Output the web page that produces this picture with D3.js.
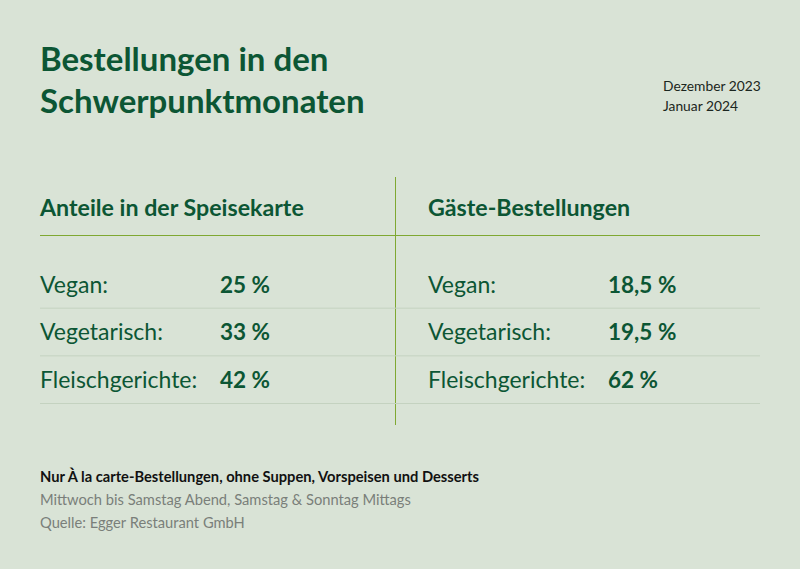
<!DOCTYPE html>
<html><head><meta charset="utf-8">
<script src="https://cdn.jsdelivr.net/npm/d3@7"></script>
<style>html,body{margin:0;padding:0;background:#d9e3d6;}svg{display:block;}</style>
</head><body>
<svg id="c" width="800" height="569"></svg>
<script>
const titleLines = ["Bestellungen in den", "Schwerpunktmonaten"];
const periodLines = ["Dezember 2023", "Januar 2024"];
const columnTitles = ["Anteile in der Speisekarte", "Gäste-Bestellungen"];
const categories = ["Vegan:", "Vegetarisch:", "Fleischgerichte:"];
const menuShares = [25, 33, 42];
const guestShares = [18.5, 19.5, 62];
const footNote = "Nur À la carte-Bestellungen, ohne Suppen, Vorspeisen und Desserts";
const footLines = ["Mittwoch bis Samstag Abend, Samstag & Sonntag Mittags", "Quelle: Egger Restaurant GmbH"];

const FONT = "Lato, 'Noto Sans', sans-serif";
const GREEN = "#0c5634";
const LINE = "#7fa832";
const svg = d3.select("#c").style("font-family", FONT);
svg.append("rect").attr("width", 800).attr("height", 569).attr("fill", "#d9e3d6");

// title
svg.append("g").selectAll("text").data(titleLines).join("text")
  .attr("x", 40).attr("y", (d, i) => 71 + i * 42)
  .attr("font-size", 33).attr("font-weight", 700).attr("fill", GREEN).text(d => d);

svg.append("g").selectAll("text").data(periodLines).join("text")
  .attr("x", 663).attr("y", (d, i) => 91 + i * 20)
  .attr("font-size", 13.8).attr("fill", "#1b2620").text(d => d);

// columns
const colX = d3.scaleOrdinal().domain([0, 1]).range([40, 428]);
const valX = d3.scaleOrdinal().domain([0, 1]).range([220, 608]);
const rowY = d3.scaleBand().domain(categories).range([260, 403]).paddingInner(0);

svg.append("line").attr("x1", 395.5).attr("x2", 395.5).attr("y1", 177).attr("y2", 425)
  .attr("stroke", LINE).attr("stroke-width", 1);
svg.append("line").attr("x1", 40).attr("x2", 760).attr("y1", 235.5).attr("y2", 235.5)
  .attr("stroke", LINE).attr("stroke-width", 1);

svg.append("g").selectAll("text").data(columnTitles).join("text")
  .attr("x", (d, i) => colX(i)).attr("y", 216)
  .attr("font-size", 23.2).attr("font-weight", 700).attr("fill", GREEN).text(d => d);

const fmt = v => (Number.isInteger(v) ? String(v) : String(v).replace(".", ",")) + " %";
const cols = [menuShares, guestShares];

cols.forEach((vals, ci) => {
  const g = svg.append("g");
  const x0 = ci === 0 ? 40 : 395, x1 = ci === 0 ? 395 : 760;
  g.selectAll("line.sep").data(categories).join("line").attr("class", "sep")
    .attr("x1", x0).attr("x2", x1)
    .attr("y1", d => rowY(d) + rowY.bandwidth() + 0.5).attr("y2", d => rowY(d) + rowY.bandwidth() + 0.5)
    .attr("stroke", "#c4d2c0").attr("stroke-width", 1);
  g.selectAll("text.lab").data(categories).join("text").attr("class", "lab")
    .attr("x", colX(ci)).attr("y", d => rowY(d) + rowY.bandwidth() - 15)
    .attr("font-size", 23).attr("fill", GREEN).text(d => d);
  g.selectAll("text.val").data(vals).join("text").attr("class", "val")
    .attr("x", valX(ci)).attr("y", (d, i) => rowY(categories[i]) + rowY.bandwidth() - 15)
    .attr("font-size", 22.5).attr("font-weight", 700).attr("fill", GREEN).text(d => fmt(d));
});

svg.append("text").attr("x", 40).attr("y", 482).attr("font-size", 14.7).attr("font-weight", 700)
  .attr("fill", "#111").text(footNote);
svg.append("g").selectAll("text").data(footLines).join("text")
  .attr("x", 40).attr("y", (d, i) => 505 + i * 23)
  .attr("font-size", 14.7).attr("fill", "#7a7f7a").text(d => d);
</script>
</body></html>
